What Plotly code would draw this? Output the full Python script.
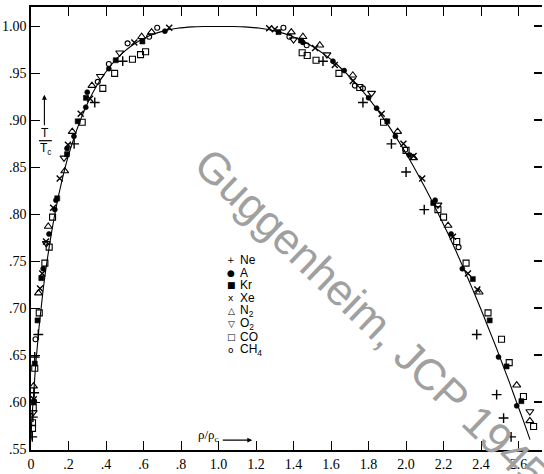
import plotly.graph_objects as go

# ---- reduced temperature vs reduced density (coexistence curve) ----
# Ne
ne_rho = [0.489, 0.34, 0.23, 0.039, 0.02, 0.017, 0.01, 0.007,
          1.557, 1.77, 1.922, 2.0, 2.097, 2.377, 2.483, 2.52, 2.56]
ne_t = [0.963, 0.919, 0.875, 0.672, 0.648, 0.610, 0.584, 0.563,
        0.963, 0.919, 0.875, 0.845, 0.805, 0.672, 0.608, 0.583, 0.563]
# A
ar_rho = [0.714, 0.415, 0.30, 0.292, 0.229, 0.192, 0.133, 0.127, 0.096, 0.065, 0.017,
          1.45, 1.61, 1.67, 1.80, 1.843, 1.943, 2.017, 2.155, 2.24, 2.30, 2.493, 2.59]
ar_t = [0.995, 0.955, 0.930, 0.914, 0.883, 0.870, 0.815, 0.805, 0.779, 0.742, 0.601,
        0.983, 0.963, 0.953, 0.924, 0.913, 0.883, 0.863, 0.815, 0.779, 0.742, 0.648, 0.596]
# Kr
kr_rho = [0.594, 0.452, 0.293, 0.249, 0.192, 0.14, 0.055, 0.035, 0.02, 0.015,
          1.32, 1.44, 1.90, 2.145, 2.356, 2.446, 2.536, 2.615]
kr_t = [0.984, 0.964, 0.924, 0.899, 0.864, 0.817, 0.732, 0.687, 0.641, 0.600,
        0.994, 0.985, 0.899, 0.812, 0.731, 0.687, 0.638, 0.601]
# Xe
xe_rho = [0.737, 0.551, 0.315, 0.265, 0.197, 0.153, 0.118, 0.08, 0.06, 0.048, 0.015,
          1.27, 1.30, 1.515, 1.62, 1.716, 1.87, 1.986, 2.04, 2.086, 2.25, 2.33, 2.38]
xe_t = [0.9986, 0.983, 0.923, 0.907, 0.874, 0.838, 0.807, 0.771, 0.737, 0.721, 0.603,
        0.998, 0.997, 0.977, 0.959, 0.942, 0.907, 0.875, 0.862, 0.838, 0.776, 0.737, 0.720]
# N2
n2_rho = [0.643, 0.59, 0.325, 0.22, 0.18, 0.092, 0.04, 0.013,
          1.388, 1.45, 1.54, 1.716, 1.955, 2.04, 2.224, 2.39, 2.59, 2.66]
n2_t = [0.994, 0.989, 0.937, 0.888, 0.846, 0.787, 0.716, 0.617,
        0.994, 0.989, 0.980, 0.948, 0.888, 0.860, 0.788, 0.717, 0.618, 0.580]
# O2
o2_rho = [0.473, 0.37, 0.176, 0.082, 0.012,
          1.40, 1.578, 1.816, 2.17, 2.66]
o2_t = [0.972, 0.947, 0.860, 0.769, 0.589,
        0.986, 0.970, 0.929, 0.810, 0.590]
# CO
co_rho = [0.611, 0.584, 0.541, 0.446, 0.383, 0.273, 0.115, 0.097, 0.074, 0.044, 0.02, 0.012, 0.008, 0.008,
          1.446, 1.473, 1.52, 1.642, 1.753, 1.88, 2.0, 2.17, 2.2, 2.27, 2.32, 2.437, 2.509, 2.55, 2.626, 2.68]
co_t = [0.973, 0.970, 0.965, 0.950, 0.934, 0.898, 0.797, 0.765, 0.748, 0.695, 0.636, 0.594, 0.578, 0.572,
        0.972, 0.969, 0.964, 0.950, 0.935, 0.898, 0.868, 0.805, 0.797, 0.771, 0.748, 0.695, 0.667, 0.642, 0.606, 0.574]
# CH4
ch4_rho = [0.673, 0.63, 0.515, 0.415, 0.356, 0.024,
           1.346, 1.378, 1.47, 1.727, 1.77, 1.996, 2.28]
ch4_t = [0.9986, 0.989, 0.982, 0.960, 0.941, 0.667,
         0.9986, 0.989, 0.980, 0.937, 0.934, 0.869, 0.765]

# smooth coexistence curve: gas branch up to the critical point, then liquid branch down
curve_rho = [0.0, 0.004, 0.011, 0.018, 0.025, 0.034, 0.043, 0.054, 0.065, 0.078, 0.093,
             0.109, 0.127, 0.147, 0.170, 0.196, 0.227, 0.263, 0.306, 0.360, 0.432, 0.479,
             0.540, 0.631, 0.704, 0.781, 0.861, 0.919, 1.0,
             1.081, 1.139, 1.222, 1.303, 1.385, 1.490, 1.566, 1.629, 1.730, 1.814, 1.887,
             1.953, 2.014, 2.070, 2.123, 2.173, 2.222, 2.268, 2.312, 2.355, 2.397, 2.437,
             2.477, 2.515, 2.553, 2.589, 2.626, 2.661]
curve_t = [0.56, 0.58, 0.60, 0.62, 0.64, 0.66, 0.68, 0.70, 0.72, 0.74, 0.76,
           0.78, 0.80, 0.82, 0.84, 0.86, 0.88, 0.90, 0.92, 0.94, 0.96, 0.97,
           0.98, 0.99, 0.995, 0.998, 0.9995, 0.9999, 1.0,
           0.9999, 0.9995, 0.998, 0.995, 0.99, 0.98, 0.97, 0.96, 0.94, 0.92, 0.90,
           0.88, 0.86, 0.84, 0.82, 0.80, 0.78, 0.76, 0.74, 0.72, 0.70, 0.68,
           0.66, 0.64, 0.62, 0.60, 0.58, 0.56]

x_ticks = [0, 0.2, 0.4, 0.6, 0.8, 1.0, 1.2, 1.4, 1.6, 1.8, 2.0, 2.2, 2.4, 2.6]
x_labels = ["0", ".2", ".4", ".6", ".8", "1.0", "1.2", "1.4", "1.6", "1.8", "2.0", "2.2", "2.4", "2.6"]
y_ticks = [0.55, 0.60, 0.65, 0.70, 0.75, 0.80, 0.85, 0.90, 0.95, 1.00]
y_labels = [".55", ".60", ".65", ".70", ".75", ".80", ".85", ".90", ".95", "1.00"]

legend_names = ["Ne", "A", "Kr", "Xe", "N<sub>2</sub>", "O<sub>2</sub>", "CO", "CH<sub>4</sub>"]
legend_glyphs = ["+", "\u25cf", "\u25a0", "x", "\u25b3", "\u25bd", "\u25a1", "o"]

W, H = 544, 474
ML, MR, MT, MB = 27, 2, 7, 18
PW, PH = W - ML - MR, H - MT - MB


def px(xp):
    return (xp - ML) / PW


def py(yp):
    return (H - MB - yp) / PH


fig = go.Figure()

fig.add_trace(go.Scatter(x=curve_rho, y=curve_t, mode="lines",
                         line=dict(color="black", width=1.1, shape="spline", smoothing=0.5),
                         hoverinfo="skip"))

species = [
    (ne_rho, ne_t, "cross-thin", 7, 1.4),
    (ar_rho, ar_t, "circle", 5, 0.6),
    (kr_rho, kr_t, "square", 5, 0.6),
    (xe_rho, xe_t, "x-thin", 6, 1.4),
    (n2_rho, n2_t, "triangle-up-open", 7, 1.1),
    (o2_rho, o2_t, "triangle-down-open", 7, 1.1),
    (co_rho, co_t, "square-open", 6, 1.1),
    (ch4_rho, ch4_t, "circle-open", 5, 1.1),
]
for xs, ys, sym, size, lw in species:
    fig.add_trace(go.Scatter(x=xs, y=ys, mode="markers",
                             marker=dict(symbol=sym, size=size, color="black",
                                         line=dict(color="black", width=lw))))

# the right-hand tick column lives on its own overlaid axis (ticks, no spine)
fig.add_trace(go.Scatter(x=[1.0], y=[1.0], yaxis="y2", mode="markers",
                         marker=dict(size=1, opacity=0), hoverinfo="skip"))

tick_font = dict(family="Liberation Serif", size=14, color="black")

fig.update_layout(
    width=W, height=H,
    margin=dict(l=ML, r=MR, t=MT, b=MB, pad=0),
    paper_bgcolor="white", plot_bgcolor="white",
    showlegend=False,
    xaxis=dict(range=[0, PW / 189.0], tickvals=x_ticks, ticktext=x_labels,
               ticks="inside", ticklen=9, tickwidth=1.3, tickcolor="black",
               showline=True, linecolor="black", linewidth=1.5, mirror="ticks",
               showgrid=False, zeroline=False, tickfont=tick_font),
    yaxis=dict(range=[0.549, 1.0207], tickvals=y_ticks, ticktext=y_labels,
               ticks="inside", ticklen=9, tickwidth=1.3, tickcolor="black",
               showline=True, linecolor="black", linewidth=1.5,
               showgrid=False, zeroline=False, tickfont=tick_font),
    yaxis2=dict(range=[0.549, 1.0207], tickvals=y_ticks, overlaying="y", side="right",
                anchor="x", ticks="inside", ticklen=8, tickwidth=1.5, tickcolor="black",
                showline=False, showticklabels=False, showgrid=False, zeroline=False),
)


def label(xp, yp, text, size, family="Liberation Sans", xanchor="center", **kw):
    return dict(xref="paper", yref="paper", x=px(xp), y=py(yp), text=text, showarrow=False,
                xanchor=xanchor, yanchor="middle",
                font=dict(family=family, size=size, color=kw.pop("color", "black")), **kw)


ann = []
# watermark
ann.append(label(370, 323, "Guggenheim, JCP 1945", 44, textangle=43.8, color="#a0a0a0"))
# legend
for i, (g, n) in enumerate(zip(legend_glyphs, legend_names)):
    yy = 263 + i * 13.1
    ann.append(label(229, yy, g, 9, family="DejaVu Sans"))
    ann.append(label(236, yy, n, 12, xanchor="left"))
# y title: T / Tc with upward arrow
ann.append(dict(xref="paper", yref="paper", x=px(40.5), y=py(96), ax=0, ay=32, text="",
                showarrow=True, arrowhead=2, arrowsize=0.9, arrowwidth=1.1, arrowcolor="black"))
ann.append(label(41.5, 135, "T", 12))
ann.append(label(42.5, 151, "T<sub>c</sub>", 12))
# x title with rightward arrow
ann.append(label(206, 441, "\u03c1/\u03c1<sub>c</sub>", 13, family="Liberation Serif"))
ann.append(dict(xref="paper", yref="paper", x=px(250), y=py(446), ax=-31, ay=0, text="",
                showarrow=True, arrowhead=2, arrowsize=0.9, arrowwidth=1.1, arrowcolor="black"))
fig.update_layout(annotations=ann)

# fraction bar of T/Tc
fig.add_shape(type="line", xref="paper", yref="paper", x0=px(35), x1=px(48), y0=py(142.5), y1=py(142.5),
              line=dict(color="black", width=1.2))

fig.write_html("out.html")
